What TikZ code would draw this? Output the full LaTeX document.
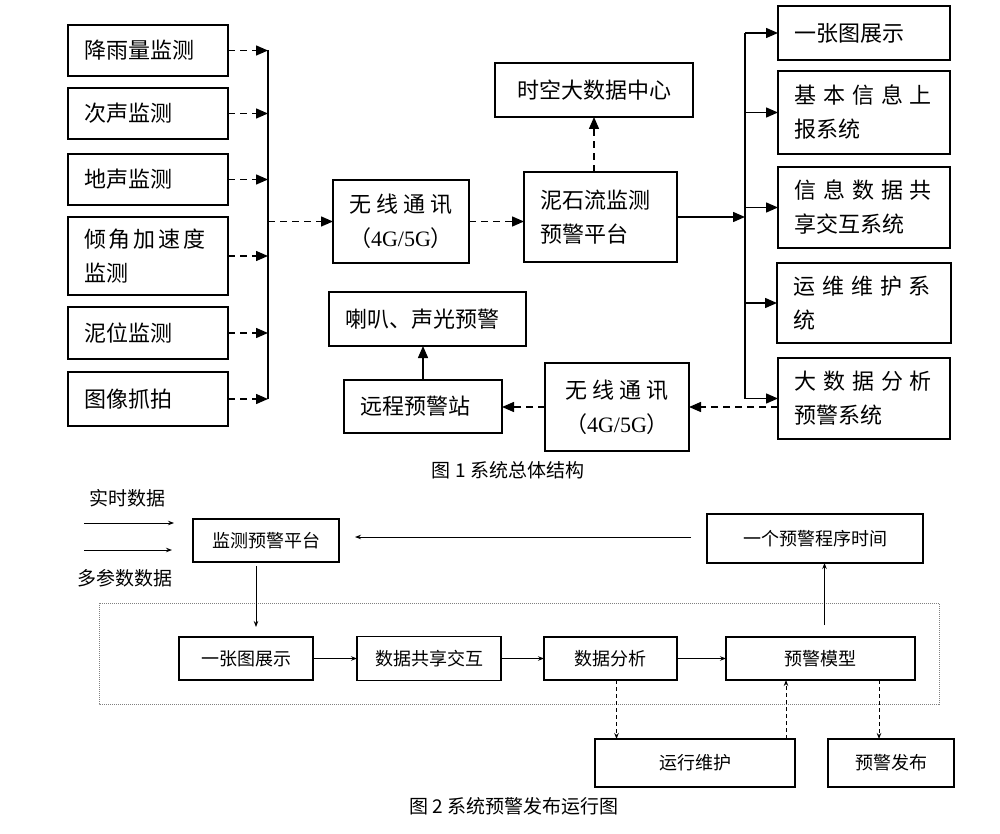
\documentclass[tikz,border=0pt]{standalone}
\usepackage{fontspec}
\setmainfont{Noto Sans CJK SC}
\newfontfamily\latin{Liberation Serif}
\usetikzlibrary{positioning,arrows.meta}
\newcommand\gp[1]{\hspace{#1pt}}

\begin{document}
\begin{tikzpicture}[x=1pt,y=-1pt,
  box/.style={draw, line width=1.4pt, inner xsep=16pt, inner ysep=0pt, outer sep=0pt, align=left, font=\fontsize{22}{34}\selectfont},
  cbox/.style={box, align=center},
  tip/.style={-{Triangle[length=12pt,width=10pt]}},
  dline/.style={line width=1.4pt, dash pattern=on 7pt off 5pt},
  sline/.style={line width=1.4pt},
  sbox/.style={draw, line width=1.1pt, inner sep=0pt, outer sep=0pt, font=\fontsize{18}{22}\selectfont},
  stip/.style={-{Stealth[length=6pt,width=4.5pt]}, line width=0.9pt},
  sdash/.style={stip, dash pattern=on 4pt off 3pt},
  capt/.style={font=\fontsize{19}{22}\selectfont}
]
\useasboundingbox (0,0) rectangle (1000,834);

\node[box, anchor=north west, text width=128pt, minimum height=51pt] (rain) at (68,25) {降雨量监测};
\node[box, text width=128pt, minimum height=51pt, below=12pt of rain] (infra) {次声监测};
\node[box, text width=128pt, minimum height=51pt, below=15pt of infra] (ground) {地声监测};
\node[box, text width=128pt, minimum height=78pt, below=12pt of ground] (tilt) {倾\gp{3}角\gp{3}加\gp{3}速\gp{3}度\\监测};
\node[box, text width=128pt, minimum height=52pt, below=12pt of tilt] (mud) {泥位监测};
\node[box, text width=128pt, minimum height=54pt, below=13pt of mud] (photo) {图像抓拍};
\coordinate (busL) at (268,0);

\node[cbox, anchor=north west, text width=104pt, minimum height=83pt] (wl1) at (333,180) {无\gp{5}线\gp{5}通\gp{5}讯\\（{\latin 4G/5G}）};
\node[box, anchor=north west, text width=121pt, minimum height=90pt] (plat) at (524,172) {泥石流监测\\预警平台};
\node[cbox, anchor=north west, text width=166pt, minimum height=54pt] (data) at (495,63) {时空大数据中心};
\node[box, anchor=north west, text width=165pt, minimum height=54pt] (horn) at (329,292) {喇叭、声光预警};
\node[box, anchor=north west, text width=126pt, minimum height=53pt] (station) at (344,380) {远程预警站};
\node[cbox, anchor=north west, text width=112pt, minimum height=88pt] (wl2) at (545,363) {无\gp{5}线\gp{5}通\gp{5}讯\\（{\latin 4G/5G}）};

\node[box, anchor=north west, text width=140pt, minimum height=54pt] (map) at (778,6) {一张图展示};
\node[box, text width=140pt, minimum height=83pt, below=11pt of map] (report) {基\gp{7}本\gp{7}信\gp{7}息\gp{7}上\\报系统};
\node[box, text width=140pt, minimum height=81pt, below=13pt of report] (share) {信\gp{7}息\gp{7}数\gp{7}据\gp{7}共\\享交互系统};
\node[box, text width=142pt, minimum height=80pt, below=15pt of share] (maint) {运\gp{7}维\gp{7}维\gp{7}护\gp{7}系\\统};
\node[box, text width=140pt, minimum height=81pt, below=15pt of maint] (bigdata) {大\gp{7}数\gp{7}据\gp{7}分\gp{7}析\\预警系统};
\coordinate (busR) at (745,0);

\foreach \n in {rain,infra,ground,tilt,mud,photo}
  \draw[dline, tip] (\n.east) -- (\n.east -| busL);
\draw[sline] (rain.east -| busL) -- (photo.east -| busL);
\draw[dline, tip] (busL |- wl1.west) -- (wl1.west);
\draw[dline, tip] (wl1.east) -- (wl1.east -| plat.west);
\draw[dline, tip] (plat.north -| data.south) -- (data.south);
\draw[sline, tip] (plat.east) -- (plat.east -| busR);
\draw[sline] (busR |- map.west) -- (busR |- bigdata.west);
\foreach \n in {map,report,share,maint,bigdata}
  \draw[sline, tip] (busR |- \n.west) -- (\n.west);
\draw[dline, tip] (bigdata.west |- wl2.east) -- (wl2.east);
\draw[dline, tip] (wl2.west) -- (wl2.west -| station.east);
\draw[sline, tip] (station.north) -- (station.north |- horn.south);

\node[capt] (cap1) at (508,470) {图 1 系统总体结构};

\draw[gray, line width=1pt, dash pattern=on 1pt off 1pt] (99,603) rectangle (939,704);
\node[sbox, minimum width=146pt, minimum height=43pt] (mon) at (266,540.5) {监测预警平台};
\node[sbox, minimum width=216pt, minimum height=49pt] (time) at (815,538.5) {一个预警程序时间};
\node[sbox, minimum width=134pt, minimum height=43pt] (onemap) at (246,658.5) {一张图展示};
\node[sbox, minimum width=144pt, minimum height=44pt, right=44pt of onemap] (inter) {数据共享交互};
\node[sbox, minimum width=133pt, minimum height=43pt, right=43pt of inter] (anal) {数据分析};
\node[sbox, minimum width=189pt, minimum height=43pt, right=49pt of anal] (model) {预警模型};
\node[sbox, minimum width=200pt, minimum height=48pt] (ops) at (695,763) {运行维护};
\node[sbox, minimum width=126pt, minimum height=48pt] (pub) at (891,763) {预警发布};

\node[capt] (rt) at (127,498) {实时数据};
\node[capt] (mp) at (125,578) {多参数数据};
\coordinate (in1) at (84,523);
\coordinate (in2) at (84,550);
\draw[stip, shorten >=19pt] (in1) -- (in1 -| mon.west);
\draw[stip, shorten >=21pt] (in2) -- (in2 -| mon.west);
\draw[stip, shorten <=16pt, shorten >=16pt] (time.west |- 0,537) -- (mon.east |- 0,537);
\draw[stip, shorten <=4pt, shorten >=10pt] ([xshift=-10pt]mon.south) -- ([xshift=-10pt]mon.south |- onemap.north);
\draw[stip] (onemap.east) -- (onemap.east -| inter.west);
\draw[stip] (inter.east) -- (inter.east -| anal.west);
\draw[stip] (anal.east) -- (anal.east -| model.west);
\draw[stip, shorten <=12pt] ([xshift=4pt]model.north) -- ([xshift=4pt]model.north |- time.south);
\draw[sdash] ([xshift=6pt]anal.south) -- ([xshift=6pt]anal.south |- ops.north);
\draw[sdash] ([xshift=91pt]ops.north) -- ([xshift=91pt]ops.north |- model.south);
\draw[sdash] ([xshift=-12pt]pub.north |- model.south) -- ([xshift=-12pt]pub.north);

\node[capt] (cap2) at (514,806) {图 2 系统预警发布运行图};
\end{tikzpicture}
\end{document}
